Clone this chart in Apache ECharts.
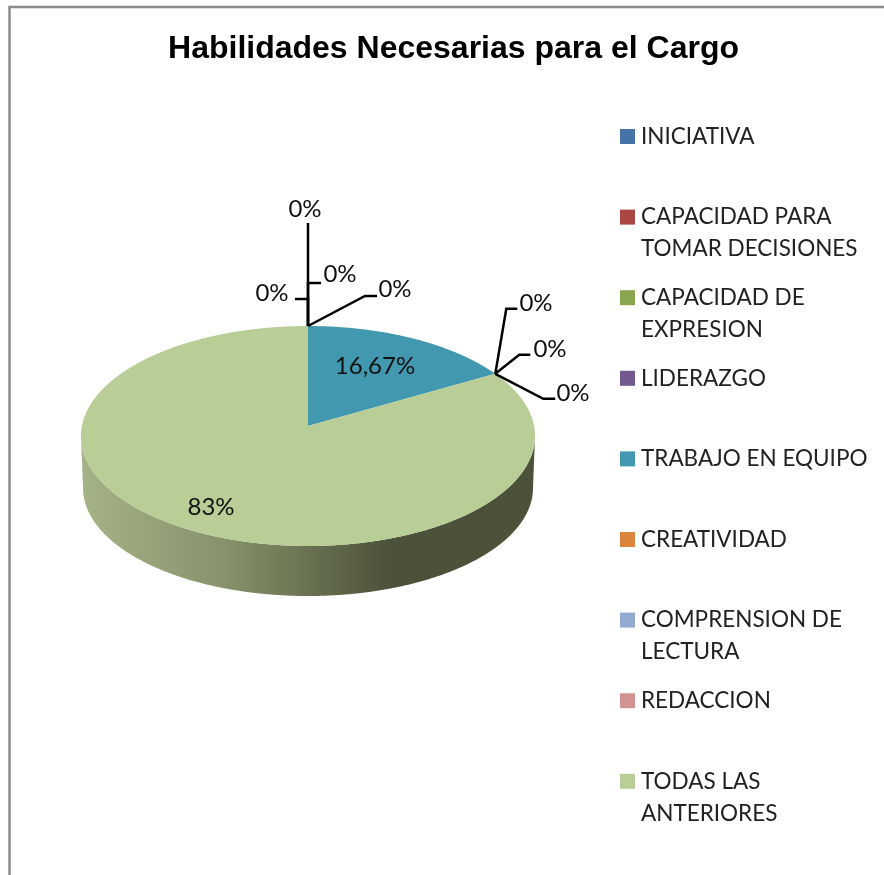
<!DOCTYPE html>
<html>
<head>
<meta charset="utf-8">
<style>html,body{margin:0;padding:0;background:#fff}#c{width:884px;height:875px}</style>
<script src="https://cdn.jsdelivr.net/npm/echarts@6/dist/echarts.min.js"></script>
</head>
<body>
<div id="c"></div>
<script>
const titleText = 'Habilidades Necesarias para el Cargo';
const categories = ['INICIATIVA','CAPACIDAD PARA\nTOMAR DECISIONES','CAPACIDAD DE\nEXPRESION','LIDERAZGO','TRABAJO EN EQUIPO','CREATIVIDAD','COMPRENSION DE\nLECTURA','REDACCION','TODAS LAS\nANTERIORES'];
const values = [0,0,0,0,16.67,0,0,0,83.33];
const valueLabels = ['0%','0%','0%','0%','16,67%','0%','0%','0%','83%'];
const colors = ['#4573a7','#aa4643','#89a54e','#71588f','#4198af','#db843d','#93a9cf','#d19392','#b9cd96'];

// leader line bends relative to the slice's rim point, and where each label sits
const leaderBends = [
  [[0,-103]],
  [[0,-43],[13,-43]],
  [[0,-27],[-13,-27]],
  [[57,-30],[69,-30]],
  null,
  [[11,-65],[22,-65]],
  [[24,-19],[35,-19]],
  [[48,25],[60,25]],
  null
];
const labelAt = [[305,209],[340,274],[272,293],[395,289],[375,366],[536,303],[550,349],[573,393],[211,507]];

// pie geometry
const cx = 308, cy = 436, rx = 227, ry = 110;
const rxB = 225, ryB = 108, cyB = 488;
const tilt = 10 / 110; // perspective shift of the pie's centre

const total = values.reduce((a, b) => a + b, 0);
function rimPoint(frac) {
  const a = frac * 2 * Math.PI;
  const up = Math.sin(a), vp = Math.cos(a);
  const d = 1 + tilt * vp;
  return [up * Math.sqrt(1 - tilt * tilt) / d, (vp + tilt) / d];
}
const toTop = p => [cx + p[0] * rx, cy - p[1] * ry];
const toBottom = p => [cx + p[0] * rxB, cyB - p[1] * ryB];

function renderSlice(params, api) {
  const i = params.seriesIndex;
  const before = values.slice(0, i).reduce((a, b) => a + b, 0);
  const value = api.value(0);
  const f0 = before / total, f1 = (before + value) / total;
  const children = [];
  if (value > 0) {
    const steps = Math.max(2, Math.round((f1 - f0) * 1440));
    const rim = [];
    for (let s = 0; s <= steps; s++) rim.push(rimPoint(f0 + (f1 - f0) * s / steps));
    const front = rim.filter(p => p[1] <= 0);
    if (front.length > 1) {
      const wall = front.map(toTop).concat(front.slice().reverse().map(toBottom));
      children.push({
        type: 'polygon', z2: 1, shape: { points: wall },
        style: { fill: new echarts.graphic.LinearGradient(81, 0, 535, 0, [
          { offset: 0, color: '#a6b387' },
          { offset: 0.32, color: '#86926a' },
          { offset: 0.68, color: '#4c513a' },
          { offset: 1, color: '#4c513a' }
        ], true) }
      });
    }
    const apex = [cx, cy - tilt * ry];
    children.push({
      type: 'polygon', z2: 2, shape: { points: [apex].concat(rim.map(toTop)) },
      style: { fill: colors[i] }
    });
  }
  const bends = leaderBends[i];
  if (bends) {
    const a = toTop(rimPoint((before + value / 2) / total));
    children.push({
      type: 'polyline', z2: 3,
      shape: { points: [a].concat(bends.map(b => [a[0] + b[0], a[1] + b[1]])) },
      style: { stroke: '#000', lineWidth: 2.5, fill: null }
    });
  }
  children.push({
    type: 'text', z2: 4, x: labelAt[i][0], y: labelAt[i][1],
    style: { text: valueLabels[i], fill: '#111', font: '24px Lato', align: 'center', verticalAlign: 'middle' }
  });
  return { type: 'group', children };
}

const chart = echarts.init(document.getElementById('c'), null, { renderer: 'canvas' });
chart.setOption({
  animation: false,
  backgroundColor: '#fff',
  title: {
    text: titleText, left: 448.5, top: 28, textAlign: 'center',
    textStyle: { fontFamily: 'Liberation Sans', fontWeight: 'bold', fontSize: 32, color: '#000' }
  },
  legend: {
    orient: 'vertical', left: 620, top: 88.5, height: 860, padding: 0,
    itemWidth: 15, itemHeight: 15, itemGap: -15.4, icon: 'rect', selectedMode: false,
    // a blank first line keeps the swatch level with the entry's first line
    formatter: name => '\n' + name + (name.indexOf('\n') >= 0 ? '' : '\n'),
    textStyle: { fontFamily: 'Lato', fontSize: 22.5, color: '#222', lineHeight: 32, padding: [0, 0, 0, 1] },
    data: categories
  },
  graphic: [{
    type: 'polyline', silent: true, z: -1,
    shape: { points: [[9.5, 875], [9.5, 7], [884, 7]] },
    style: { stroke: '#8c8c8c', lineWidth: 2.5, fill: null }
  }],
  series: categories.map((name, i) => ({
    type: 'custom', name, coordinateSystem: 'none',
    itemStyle: { color: colors[i] },
    renderItem: renderSlice,
    data: [[values[i]]]
  }))
});
</script>
</body>
</html>
